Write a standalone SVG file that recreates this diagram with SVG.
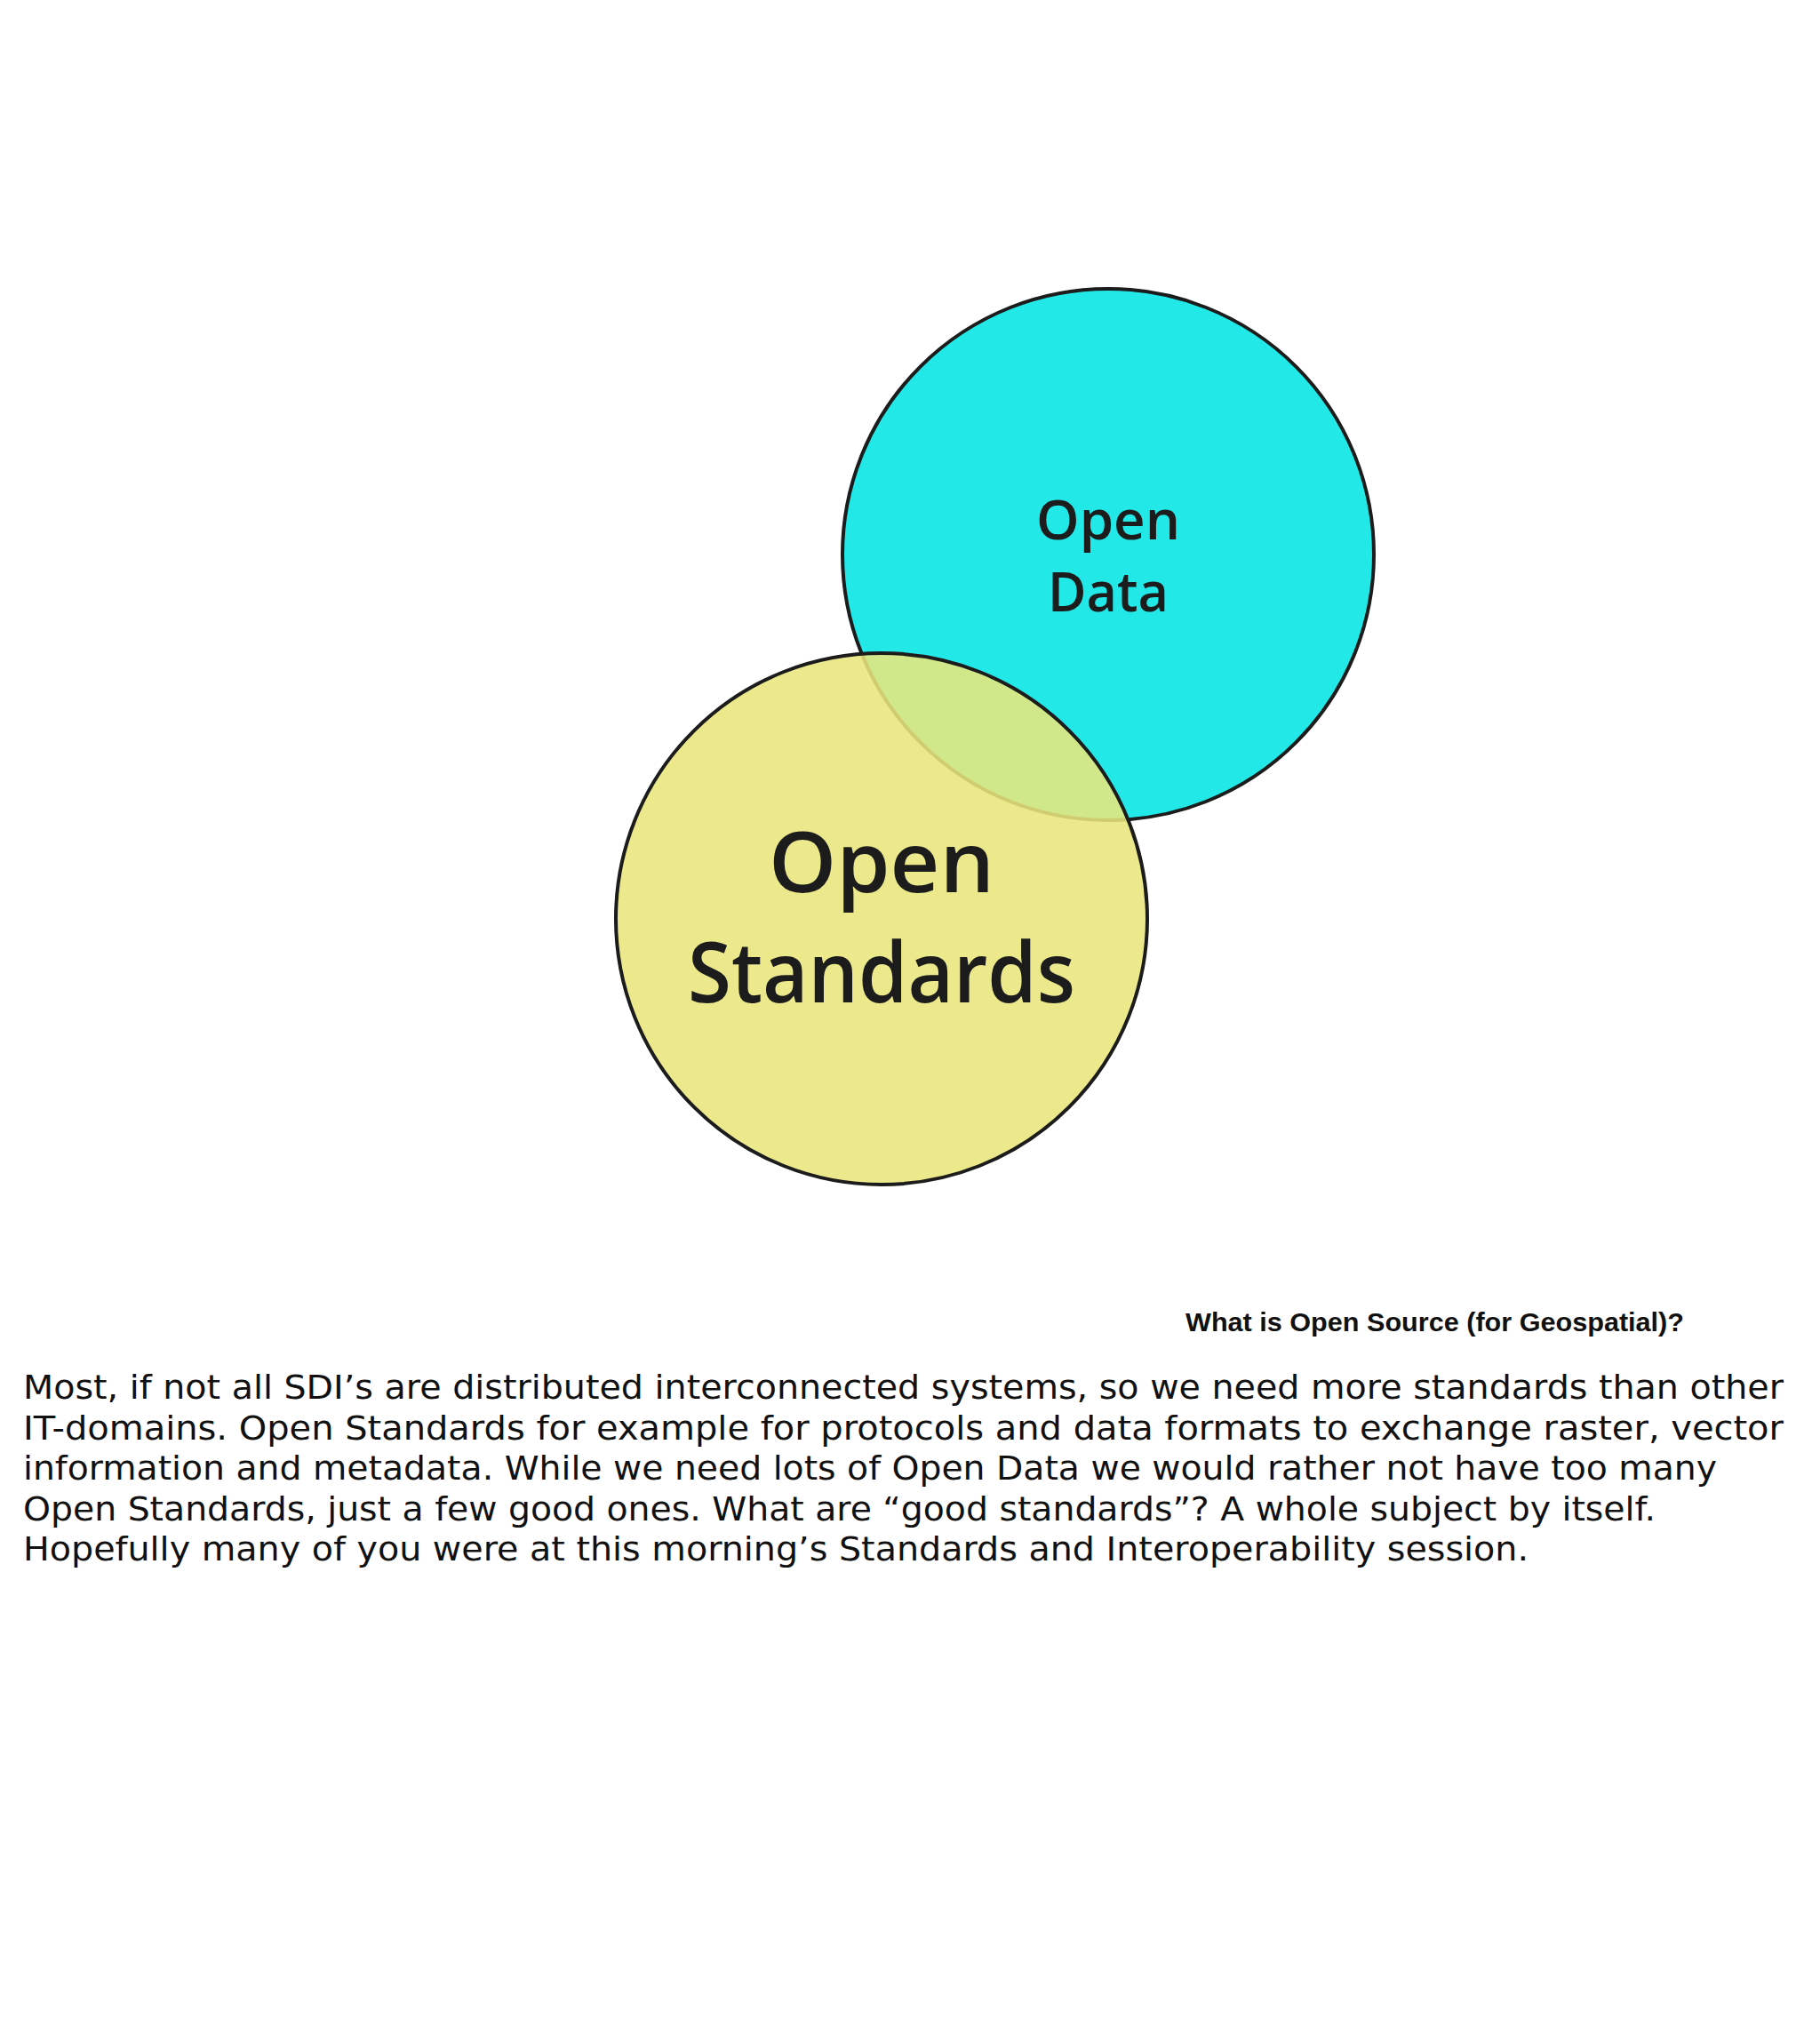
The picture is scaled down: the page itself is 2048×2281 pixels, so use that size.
<svg xmlns="http://www.w3.org/2000/svg" width="2048" height="2281" viewBox="0 0 2048 2281">
<style>
.c{stroke:#1c1c1c;stroke-width:4}
.lbl{font-family:"Open Sans","DejaVu Sans",sans-serif;font-weight:600;fill:#1c1c1c;text-anchor:middle}
.body{font-family:"DejaVu Sans",sans-serif;font-size:38px;fill:#111}
</style>
<rect width="2048" height="2281" fill="#fff"/>
<g id="open-data">
<circle class="c" cx="1247" cy="624" r="299" fill="#22e8e8"/>
<text class="lbl" x="1247" y="607" font-size="62" textLength="162" lengthAdjust="spacingAndGlyphs">Open</text>
<text class="lbl" x="1247" y="688" font-size="62" textLength="136" lengthAdjust="spacingAndGlyphs">Data</text>
</g>
<g id="open-standards">
<circle class="c" cx="992" cy="1034" r="299" fill="#e8e67c" fill-opacity="0.88"/>
<text class="lbl" x="992" y="1004" font-size="94" textLength="254" lengthAdjust="spacingAndGlyphs">Open</text>
<text class="lbl" x="992" y="1128" font-size="94" textLength="436" lengthAdjust="spacingAndGlyphs">Standards</text>
</g>
<g id="connectors"/>
<text x="1895" y="1498" font-family="Liberation Sans,Arial,sans-serif" font-weight="bold" font-size="29" text-anchor="end" fill="#111" textLength="561" lengthAdjust="spacingAndGlyphs">What is Open Source (for Geospatial)?</text>
<g class="body">
<text x="26" y="1574" textLength="1981" lengthAdjust="spacingAndGlyphs">Most, if not all SDI’s are distributed interconnected systems, so we need more standards than other</text>
<text x="26" y="1620" textLength="1981" lengthAdjust="spacingAndGlyphs">IT-domains. Open Standards for example for protocols and data formats to exchange raster, vector</text>
<text x="26" y="1665" textLength="1906" lengthAdjust="spacingAndGlyphs">information and metadata. While we need lots of Open Data we would rather not have too many</text>
<text x="26" y="1711" textLength="1837" lengthAdjust="spacingAndGlyphs">Open Standards, just a few good ones. What are “good standards”? A whole subject by itself.</text>
<text x="26" y="1756" textLength="1694" lengthAdjust="spacingAndGlyphs">Hopefully many of you were at this morning’s Standards and Interoperability session.</text>
</g>
</svg>
